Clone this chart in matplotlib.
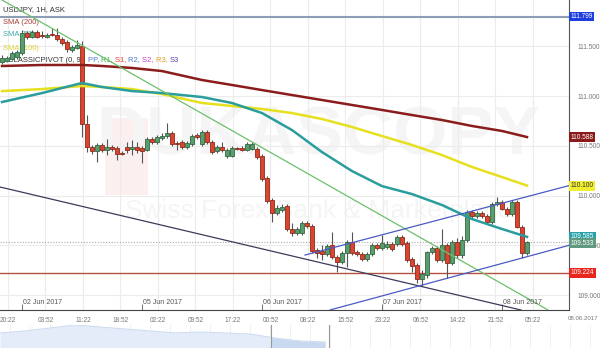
import numpy as np
import matplotlib
matplotlib.use("Agg")
import matplotlib.pyplot as plt
from matplotlib.patches import Rectangle

plt.rcParams['font.family'] = ['Liberation Sans', 'DejaVu Sans']

# hourly USD/JPY candles, 01 Jun 20:00 .. 08 Jun 05:00 (weekend skipped)
opens = [111.342, 111.352, 111.372, 111.392, 111.432, 111.633, 111.593, 111.643, 111.613, 111.593,
         111.623, 111.613, 111.573, 111.543, 111.462, 111.483, 111.503, 110.719, 110.488, 110.447,
         110.508, 110.457, 110.488, 110.478, 110.427, 110.488, 110.467, 110.488, 110.478, 110.457,
         110.568, 110.538, 110.578, 110.598, 110.628, 110.528, 110.538, 110.488, 110.518, 110.608,
         110.518, 110.638, 110.538, 110.447, 110.488, 110.397, 110.397, 110.478, 110.478, 110.457,
         110.467, 110.467, 110.397, 110.176, 109.955, 109.824, 109.855, 109.895, 109.664, 109.623,
         109.623, 109.724, 109.694, 109.453, 109.442, 109.412, 109.503, 109.382, 109.332, 109.422,
         109.533, 109.432, 109.412, 109.362, 109.412, 109.503, 109.473, 109.483, 109.513, 109.513,
         109.583, 109.523, 109.362, 109.302, 109.161, 109.201, 109.432, 109.473, 109.352, 109.503,
         109.322, 109.533, 109.402, 109.553, 109.834, 109.794, 109.824, 109.794, 109.734, 109.915,
         109.935, 109.865, 109.814, 109.935, 109.684, 109.422]
highs = [111.412, 111.402, 111.452, 111.462, 111.664, 111.653, 111.664, 111.664, 111.653, 111.633,
         111.684, 111.684, 111.593, 111.563, 111.513, 111.563, 111.553, 110.809, 110.508, 110.528,
         110.528, 110.568, 110.508, 110.498, 110.447, 110.538, 110.558, 110.538, 110.498, 110.588,
         110.588, 110.608, 110.628, 110.729, 110.649, 110.548, 110.558, 110.548, 110.618, 110.628,
         110.659, 110.659, 110.558, 110.508, 110.538, 110.478, 110.498, 110.488, 110.498, 110.538,
         110.538, 110.488, 110.417, 110.196, 109.975, 109.905, 109.915, 109.915, 109.724, 109.684,
         109.744, 109.744, 109.714, 109.473, 109.503, 109.513, 109.633, 109.402, 109.442, 109.553,
         109.633, 109.453, 109.432, 109.432, 109.523, 109.523, 109.603, 109.543, 109.533, 109.603,
         109.603, 109.543, 109.382, 109.322, 109.252, 109.442, 109.493, 109.493, 109.664, 109.523,
         109.553, 109.573, 109.593, 109.855, 109.855, 109.845, 109.845, 109.814, 109.935, 109.985,
         109.955, 109.885, 109.955, 109.955, 109.704, 109.543]
lows = [111.322, 111.342, 111.362, 111.372, 111.412, 111.573, 111.583, 111.583, 111.583, 111.583,
        111.603, 111.553, 111.513, 111.442, 111.442, 111.473, 110.588, 110.437, 110.417, 110.337,
        110.437, 110.407, 110.447, 110.357, 110.407, 110.427, 110.407, 110.427, 110.327, 110.447,
        110.518, 110.518, 110.558, 110.578, 110.498, 110.457, 110.467, 110.467, 110.498, 110.568,
        110.498, 110.518, 110.417, 110.427, 110.437, 110.377, 110.387, 110.457, 110.447, 110.447,
        110.457, 110.367, 110.146, 109.925, 109.734, 109.804, 109.834, 109.643, 109.593, 109.603,
        109.603, 109.674, 109.422, 109.372, 109.352, 109.392, 109.362, 109.231, 109.312, 109.282,
        109.402, 109.392, 109.342, 109.342, 109.392, 109.453, 109.453, 109.463, 109.442, 109.493,
        109.493, 109.332, 109.231, 109.121, 109.091, 109.171, 109.412, 109.332, 109.332, 109.171,
        109.302, 109.372, 109.372, 109.533, 109.774, 109.774, 109.774, 109.714, 109.714, 109.895,
        109.855, 109.794, 109.794, 109.674, 109.372, 109.402]
closes = [111.382, 111.382, 111.432, 111.442, 111.633, 111.593, 111.643, 111.593, 111.608, 111.613,
          111.618, 111.573, 111.533, 111.473, 111.493, 111.513, 110.719, 110.488, 110.447, 110.508,
          110.457, 110.488, 110.467, 110.417, 110.422, 110.457, 110.488, 110.457, 110.447, 110.568,
          110.538, 110.588, 110.598, 110.628, 110.518, 110.518, 110.488, 110.528, 110.598, 110.588,
          110.638, 110.538, 110.437, 110.488, 110.457, 110.457, 110.478, 110.467, 110.457, 110.518,
          110.518, 110.387, 110.166, 109.945, 109.824, 109.875, 109.885, 109.664, 109.623, 109.664,
          109.724, 109.694, 109.442, 109.422, 109.412, 109.493, 109.382, 109.332, 109.422, 109.533,
          109.422, 109.412, 109.362, 109.412, 109.503, 109.473, 109.523, 109.513, 109.463, 109.583,
          109.513, 109.352, 109.292, 109.161, 109.211, 109.432, 109.473, 109.352, 109.503, 109.322,
          109.533, 109.402, 109.553, 109.834, 109.794, 109.824, 109.794, 109.734, 109.915, 109.935,
          109.865, 109.814, 109.935, 109.684, 109.422, 109.533]

# moving averages sampled at candle indices
sma_idx = [0, 8, 16, 20, 26, 32, 40, 46, 52, 58, 64, 70, 76, 82, 88, 94, 100, 105]
sma50 = [110.940, 111.030, 111.131, 111.091, 111.050, 111.030, 110.990, 110.930, 110.829, 110.658,
         110.437, 110.246, 110.095, 110.015, 109.905, 109.764, 109.664, 109.585]
sma100 = [111.050, 111.070, 111.101, 111.091, 111.070, 111.020, 110.930, 110.900, 110.870, 110.829,
          110.769, 110.689, 110.598, 110.508, 110.407, 110.287, 110.186, 110.100]
sma200 = [111.302, 111.312, 111.312, 111.302, 111.282, 111.251, 111.161, 111.111, 111.060, 111.010,
          110.960, 110.910, 110.860, 110.809, 110.759, 110.699, 110.649, 110.588]

time_labels = ["20:22", "03:52", "11:22", "18:52", "02:22", "09:52", "17:22", "00:52",
               "08:22", "15:52", "23:22", "06:52", "14:22", "21:52", "05:22"]
date_labels = ["02 Jun 2017", "05 Jun 2017", "06 Jun 2017", "07 Jun 2017", "08 Jun 2017"]
date_idx = [4, 28, 52, 76, 100]

price_ticks = [109.0, 109.5, 110.0, 110.5, 111.0, 111.5]
level_high = 111.799
level_pivot = 109.224
last_price = 109.533

# trend lines as (candle index, price) anchors
trend_green = [(0.0, 111.965), (109.2, 108.85)]
trend_dark = [(-0.4, 110.086), (103.8, 108.85)]
channel_up = [(60.6, 109.402), (113.4, 110.100)]
channel_low = [(65.6, 108.85), (113.4, 109.500)]

# navigator overview
nav_level = [15, 17, 20, 23, 21, 19, 17, 15, 16, 15, 14, 10, 7, 6]

fig = plt.figure(figsize=(6, 3.48), dpi=100)
ax = fig.add_axes([0, 38 / 348, 569 / 600, 310 / 348])
ax.set_xlim(-0.4, 113.4)
ax.set_ylim(108.85, 111.965)

# watermark
ax.add_patch(Rectangle((0.185, 0.37), 0.075, 0.25, transform=ax.transAxes,
                       fc='#fcefef', ec='none', zorder=0.4))
ax.text(0.56, 0.56, 'DUKASCOPY', transform=ax.transAxes, fontsize=50, fontweight='bold',
        color='#f5f5f5', ha='center', va='center', zorder=0.5)
ax.text(0.56, 0.32, 'Swiss Forex Bank & Marketplace', transform=ax.transAxes, fontsize=19,
        color='#f5f5f5', ha='center', va='center', zorder=0.5)

# horizontal levels
ax.axhline(level_high, color='#8d9db5', lw=1.5, zorder=1.5)
ax.axhline(level_pivot, color='#b5523f', lw=1.0, zorder=1.5)
ax.axhline(last_price, color='#a8a8a8', lw=0.8, ls=(0, (1, 1.5)), zorder=1.5)

# candles
x = np.arange(len(opens))
o = np.array(opens); c = np.array(closes)
up = c >= o
ax.vlines(x, lows, highs, color='#555555', lw=0.8, zorder=2)
body = np.maximum(np.abs(c - o), 0.005)
ax.bar(x[up], body[up], bottom=np.minimum(o, c)[up], width=0.72,
       color='#5a9d6c', edgecolor='#2f6a43', lw=0.6, zorder=2.2)
ax.bar(x[~up], body[~up], bottom=np.minimum(o, c)[~up], width=0.72,
       color='#d9452e', edgecolor='#8f2a1c', lw=0.6, zorder=2.2)

# moving averages
ax.plot(sma_idx, sma200, color='#8b1c1c', lw=1.8, zorder=3)
ax.plot(sma_idx, sma100, color='#e6e01e', lw=1.8, zorder=3)
ax.plot(sma_idx, sma50, color='#2a9d9d', lw=1.8, zorder=3)

# trend lines
for pts, col in [(trend_green, '#6cc06c'), (trend_dark, '#3c3c5a'),
                 (channel_up, '#4a5bc4'), (channel_low, '#4a5bc4')]:
    ax.plot([pts[0][0], pts[1][0]], [pts[0][1], pts[1][1]], color=col, lw=0.9, zorder=3)

# axes styling
for s in ['top', 'left']:
    ax.spines[s].set_visible(False)
ax.spines['right'].set_color('#555555')
ax.spines['bottom'].set_color('#444444')
ax.yaxis.tick_right()
ax.set_yticks(price_ticks)
ax.set_yticklabels([f"{v:.3f}" for v in price_ticks])
ax.set_xticks([1.2 + 7.5 * k for k in range(len(time_labels))])
ax.set_xticklabels(time_labels)
ax.set_xticks(date_idx, minor=True)
ax.tick_params(axis='both', which='major', length=0, labelsize=4.7, labelcolor='#777777')
ax.tick_params(axis='y', pad=6)
ax.tick_params(axis='x', pad=5)
ax.tick_params(axis='x', which='minor', direction='in', length=4, color='#555555')
ax.grid(True, which='major', color='#ececec', lw=0.8, zorder=0)
ax.set_axisbelow(True)

for d, lab in zip(date_idx, date_labels):
    ax.annotate(lab, xy=(d, 0), xycoords=('data', 'axes fraction'), xytext=(1, 3),
                textcoords='offset points', fontsize=5, color='#555555', va='bottom')

# value boxes on the price scale
boxes = [(level_high, '#1d3fe0', 'white'), (110.588, '#8b1a1a', 'white'),
         (110.100, '#f0ee30', '#333333'), (109.585, '#28a0a8', 'white'),
         (109.533, '#5f9a80', 'white'), (level_pivot, '#e8241c', 'white')]
for val, fc, tc in boxes:
    off = -0.012 if val == 109.533 else 0.0
    ax.text(1.003, val + off, f"{val:.3f}", transform=ax.get_yaxis_transform(), ha='left',
            va='center', fontsize=4.7, color=tc, clip_on=False, zorder=10,
            bbox=dict(boxstyle='square,pad=0.22', fc=fc, ec='none'))

fig.text(0.998, 1 - 318 / 348, '08.06.2017', fontsize=4.4, color='#777777', va='center',
         ha='right')

# legend texts
legend_rows = [("USDJPY, 1H, ASK", '#333333', 10), ("SMA (200)", '#a83a3a', 22),
               ("SMA (50)", '#3aacac', 35), ("SMA (100)", '#dcd430', 48)]
for txt, col, ypx in legend_rows:
    ax.annotate(txt, xy=(3, 310 - ypx), xycoords='axes pixels', fontsize=5.5, color=col,
                va='center', zorder=1.8)

fig.canvas.draw()
rend = fig.canvas.get_renderer()
pivot_parts = [("CLASSICPIVOT (0, 9): ", '#333333'), ("PP, ", '#4a7ad0'), ("R1, ", '#3cb043'),
               ("S1, ", '#e03c31'), ("R2, ", '#4a7ad0'), ("S2, ", '#c040c0'),
               ("R3, ", '#e0a020'), ("S3", '#6040a0')]
xpos = 8
for txt, col in pivot_parts:
    t = ax.annotate(txt, xy=(xpos, 310 - 60), xycoords='axes pixels', fontsize=5.5, color=col,
                    va='center', zorder=1.8)
    xpos += t.get_window_extent(rend).width

# navigator strip
nav = fig.add_axes([0, 0, 1, 23 / 348])
nav.set_xlim(0, 24)
nav.set_ylim(0, 23)
nx = np.arange(len(nav_level))
nav.fill_between(nx, 0, nav_level, color='#e3ecf8', lw=0)
nav.plot(nx, nav_level, color='#cddcf0', lw=0.8)
sx = np.linspace(10.84, 13.0, 10)
nav.fill_between(sx, 0, np.interp(sx, nx, nav_level), color='#c9d9f0', lw=0)
nav.axvline(10.84, color='#999999', lw=0.8)
nav.axvline(13.16, color='#999999', lw=0.8)
nav.set_xticks(np.arange(0.4, 24, 0.8))
nav.grid(True, axis='x', color='#eeeeee', lw=0.6)
nav.set_axisbelow(True)
nav.tick_params(length=0, labelbottom=False, labelleft=False)
for s in nav.spines.values():
    s.set_visible(False)

fig.savefig('out.png', dpi=100)
